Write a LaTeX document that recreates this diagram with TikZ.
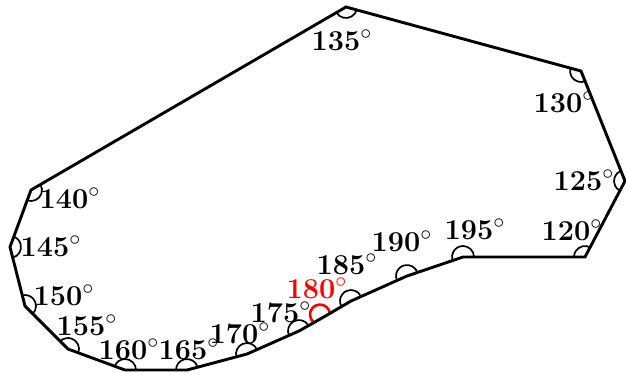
\documentclass[tikz,border=0pt]{standalone}
\newcommand\angarc[3]{\draw[ang] ([shift={(#2:5.5pt)}]#1) arc[start angle=#2, end angle=#3, radius=5.5pt];}
\begin{document}
\begin{tikzpicture}[x=0.5pt,y=-0.5pt,
  edge/.style={line width=1.45pt, line join=miter},
  ang/.style={line width=0.85pt},
  lab/.style={font=\fontsize{15}{18}\selectfont, inner sep=0pt}]
\useasboundingbox (0,0) rectangle (626,372);
\coordinate (v120) at (585,257);
\coordinate (v125) at (625,181);
\coordinate (v130) at (581,71);
\coordinate (v135) at (346,7);
\coordinate (v140) at (31,190);
\coordinate (v145) at (10,247);
\coordinate (v150) at (25,306);
\coordinate (v155) at (68,349);
\coordinate (v160) at (125,370);
\coordinate (v165) at (187,370);
\coordinate (v170) at (247,354);
\coordinate (v175) at (299,331);
\coordinate (v180) at (322,318);
\coordinate (v185) at (351,301);
\coordinate (v190) at (407,276);
\coordinate (v195) at (463,257);
% angle arcs
\angarc{v120}{60}{180}
\angarc{v125}{115}{240}
\angarc{v130}{165}{295}
\angarc{v135}{210}{345}
\angarc{v140}{250}{390}
\angarc{v145}{285}{430}
\angarc{v150}{315}{465}
\angarc{v155}{340}{495}
\angarc{v160}{0}{160}
\angarc{v165}{15}{180}
\angarc{v170}{25}{195}
\angarc{v175}{30}{205}
\angarc{v185}{25}{210}
\angarc{v190}{15}{205}
\angarc{v195}{0}{195}
\coordinate (c180) at ([shift={(120:2pt)}]v180);
\draw[red, line width=1.3pt] ([shift={(6.4:5pt)}]c180) arc[start angle=6.4, end angle=233.6, radius=5pt];
% polygon
\draw[edge] (v120)--(v125)--(v130)--(v135)--(v140)--(v145)--(v150)--(v155)--(v160)--(v165)--(v170)--(v175)--(v180)--(v185)--(v190)--(v195)--cycle;
% labels
\node[lab] (l120) at (572,230) {$\mathbf{120}^\circ$};
\node[lab] (l125) at (584,180) {$\mathbf{125}^\circ$};
\node[lab] (l130) at (564,102) {$\mathbf{130}^\circ$};
\node[lab] (l135) at (342,40) {$\mathbf{135}^\circ$};
\node[lab] (l140) at (70,198) {$\mathbf{140}^\circ$};
\node[lab] (l145) at (51,246) {$\mathbf{145}^\circ$};
\node[lab] (l150) at (64,295) {$\mathbf{150}^\circ$};
\node[lab] (l155) at (87,325) {$\mathbf{155}^\circ$};
\node[lab] (l160) at (129,349) {$\mathbf{160}^\circ$};
\node[lab] (l165) at (189,349) {$\mathbf{165}^\circ$};
\node[lab] (l170) at (240,333) {$\mathbf{170}^\circ$};
\node[lab] (l175) at (281,312) {$\mathbf{175}^\circ$};
\node[lab, text=red] (l180) at (317,288) {$\mathbf{180}^\circ$};
\node[lab] (l185) at (347,264) {$\mathbf{185}^\circ$};
\node[lab] (l190) at (402,241) {$\mathbf{190}^\circ$};
\node[lab] (l195) at (475,229) {$\mathbf{195}^\circ$};
\end{tikzpicture}
\end{document}
